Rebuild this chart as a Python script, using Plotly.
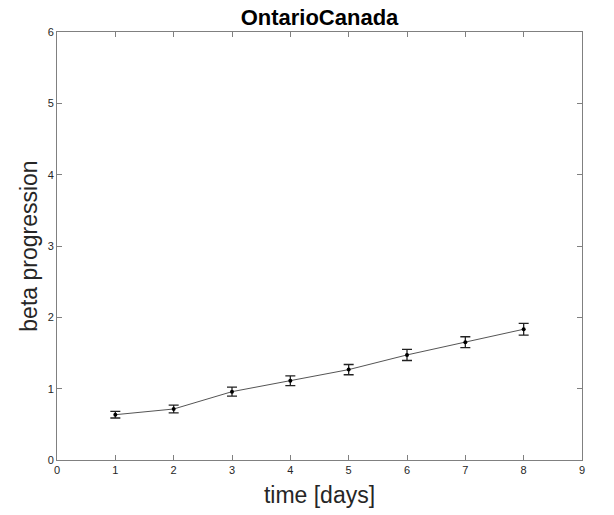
import plotly.graph_objects as go

days = [1, 2, 3, 4, 5, 6, 7, 8]
beta = [0.635, 0.715, 0.958, 1.112, 1.267, 1.473, 1.651, 1.833]
beta_err = [0.046, 0.054, 0.063, 0.068, 0.072, 0.078, 0.077, 0.082]

x_ticks = list(range(0, 10))
y_ticks = list(range(0, 7))

fig = go.Figure()
fig.add_trace(go.Scatter(
    x=days, y=beta,
    mode="lines+markers",
    line=dict(color="#555555", width=1),
    marker=dict(color="black", size=4),
    error_y=dict(type="data", array=beta_err, visible=True,
                 color="#222222", thickness=1.3, width=5),
    showlegend=False,
))

axis_common = dict(
    showgrid=False, zeroline=False, showline=True, linecolor="#808080",
    linewidth=1, mirror="ticks", ticks="inside", ticklen=5,
    tickcolor="#808080", tickfont=dict(family="Liberation Sans, Arial", size=11, color="#262626"),
)

fig.update_layout(
    width=614, height=515,
    margin=dict(l=57, r=32, t=32, b=55),
    paper_bgcolor="white", plot_bgcolor="white",
    title=dict(text="<b>OntarioCanada</b>", x=0.5, xanchor="center",
               xref="paper", y=0.967, yanchor="middle",
               font=dict(family="Liberation Sans, Arial", size=22, color="black")),
    xaxis=dict(range=[0, 9], tickvals=x_ticks,
               title=dict(text="time [days]", standoff=11,
                          font=dict(family="Liberation Sans, Arial", size=23, color="#262626")),
               **axis_common),
    yaxis=dict(range=[0, 6], tickvals=y_ticks,
               title=dict(text="beta progression", standoff=3,
                          font=dict(family="Liberation Sans, Arial", size=23, color="#262626")),
               **axis_common),
)

fig.write_html("out.html")
